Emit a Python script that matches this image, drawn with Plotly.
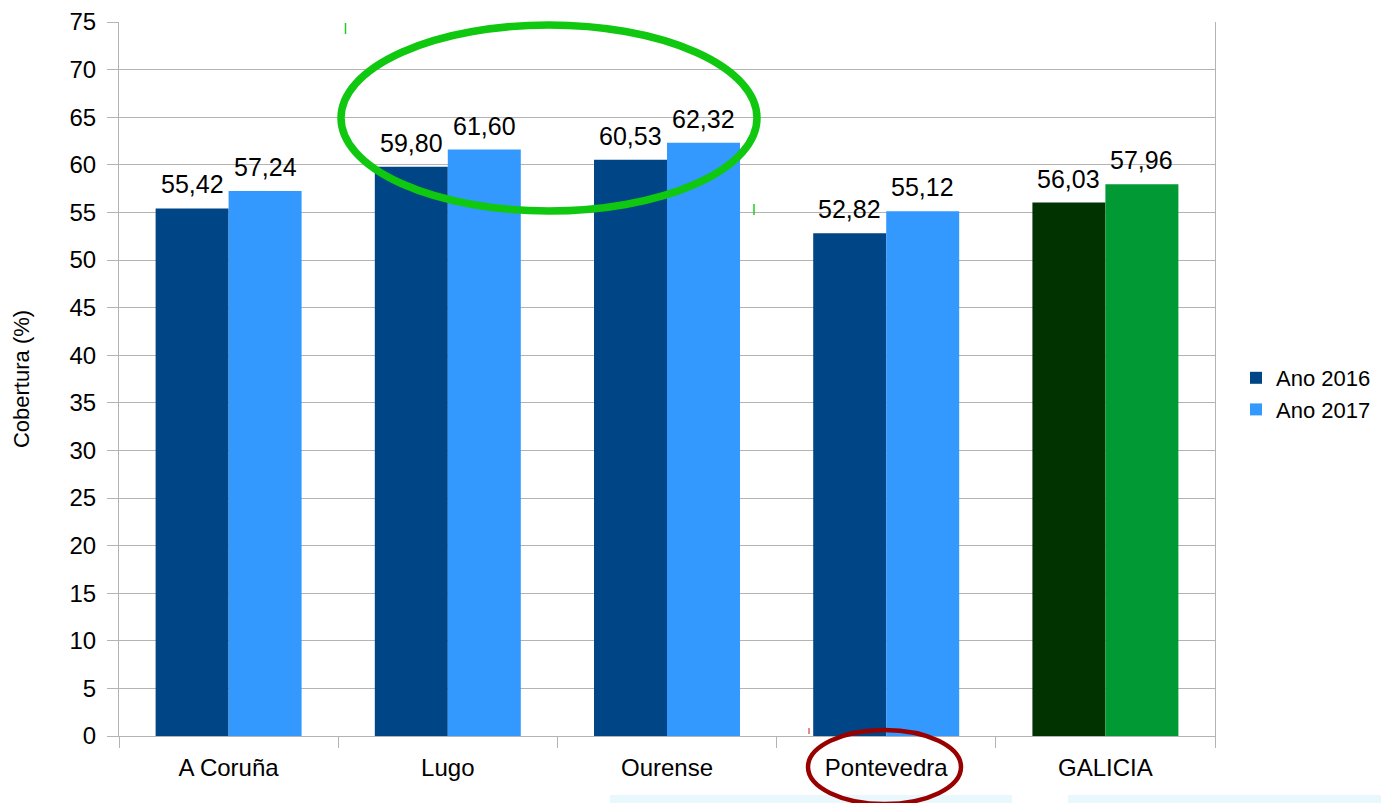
import plotly.graph_objects as go

categories = ["A Coruña", "Lugo", "Ourense", "Pontevedra", "GALICIA"]
ano_2016 = [55.42, 59.80, 60.53, 52.82, 56.03]
ano_2017 = [57.24, 61.60, 62.32, 55.12, 57.96]
colors_2016 = ["#004586", "#004586", "#004586", "#004586", "#003300"]
colors_2017 = ["#3399ff", "#3399ff", "#3399ff", "#3399ff", "#009933"]
y_ticks = list(range(0, 80, 5))

W, H = 1381, 803
L, R, T, B = 119, 1215, 22, 736

def px(x):
    return (x - L) / (R - L)

def py(y):
    return (B - y) / (B - T)

FONT = "Liberation Sans, Arial, sans-serif"
BAR_PX = (R - L) / len(categories) * (1 - 0.334) / 2

fig = go.Figure()
fig.add_trace(go.Bar(
    x=categories, y=ano_2016, name="Ano 2016",
    marker=dict(color=colors_2016, line=dict(width=0)),
))
fig.add_trace(go.Bar(
    x=categories, y=ano_2017, name="Ano 2017",
    marker=dict(color=colors_2017, line=dict(width=0)),
))

annotations = []
for series, shift in ((ano_2016, -BAR_PX / 2), (ano_2017, BAR_PX / 2)):
    for cat, val in zip(categories, series):
        annotations.append(dict(
            x=cat, y=val, xref="x", yref="y",
            text=f"{val:.2f}".replace(".", ","),
            showarrow=False, xanchor="center", yanchor="bottom",
            xshift=shift, yshift=8,
            font=dict(size=25, color="#000000", family=FONT),
        ))

shapes = [
    # green ellipse
    dict(type="circle", xref="paper", yref="paper",
         x0=px(341), x1=px(757), y0=py(211), y1=py(25),
         line=dict(color="#0fc80f", width=7.5), layer="above"),
    # red ellipse
    dict(type="circle", xref="paper", yref="paper",
         x0=px(808), x1=px(961), y0=py(804), y1=py(730),
         line=dict(color="#990000", width=4.5), layer="above"),
    # small marks
    dict(type="line", xref="paper", yref="paper",
         x0=px(345.5), x1=px(345.5), y0=py(23), y1=py(34),
         line=dict(color="#22cc22", width=1.5)),
    dict(type="line", xref="paper", yref="paper",
         x0=px(754), x1=px(754), y0=py(204), y1=py(215),
         line=dict(color="#22cc22", width=1.5)),
    dict(type="line", xref="paper", yref="paper",
         x0=px(809), x1=px(809), y0=py(728), y1=py(734),
         line=dict(color="#cc4444", width=1.2)),
    # faint strips at bottom
    dict(type="rect", xref="paper", yref="paper",
         x0=px(610), x1=px(1012), y0=py(803), y1=py(795),
         fillcolor="#e9f8fc", line=dict(width=0), layer="below"),
    dict(type="rect", xref="paper", yref="paper",
         x0=px(1068), x1=px(1381), y0=py(803), y1=py(795),
         fillcolor="#e9f8fc", line=dict(width=0), layer="below"),
]

fig.update_layout(
    width=W, height=H,
    margin=dict(l=L, r=W - R, t=T, b=H - B, pad=0, autoexpand=False),
    paper_bgcolor="white", plot_bgcolor="white",
    barmode="group", bargap=0.334, bargroupgap=0,
    separators=",.",
    font=dict(family=FONT, color="#000000"),
    showlegend=True,
    legend=dict(x=px(1236), y=py(394), xanchor="left", yanchor="middle",
                font=dict(size=22, family=FONT), bgcolor="rgba(0,0,0,0)",
                itemsizing="constant"),
    shapes=shapes,
    annotations=annotations,
    xaxis=dict(
        type="category", tickson="boundaries",
        ticks="outside", ticklen=11, tickcolor="#b3b3b3", tickwidth=1,
        showline=True, linecolor="#b3b3b3", linewidth=1,
        showgrid=False, tickfont=dict(size=24, family=FONT),
        ticklabelstandoff=10, automargin=False,
    ),
    yaxis=dict(
        range=[0, 75], tickvals=y_ticks,
        ticks="outside", ticklen=11, tickcolor="#b3b3b3", tickwidth=1,
        showline=True, linecolor="#b3b3b3", linewidth=1, mirror=True,
        showgrid=True, gridcolor="#b3b3b3", gridwidth=1,
        zeroline=False, tickfont=dict(size=24, family=FONT),
        ticklabelstandoff=6, automargin=False,
        title=dict(text="Cobertura (%)", font=dict(size=22, family=FONT), standoff=33),
    ),
)

fig.write_html("out.html", config={"displayModeBar": False})

with open("out.html", "r", encoding="utf-8") as f:
    html = f.read()
html = html.replace("<body>", '<body style="margin:0;padding:0;overflow:hidden">', 1)
with open("out.html", "w", encoding="utf-8") as f:
    f.write(html)
